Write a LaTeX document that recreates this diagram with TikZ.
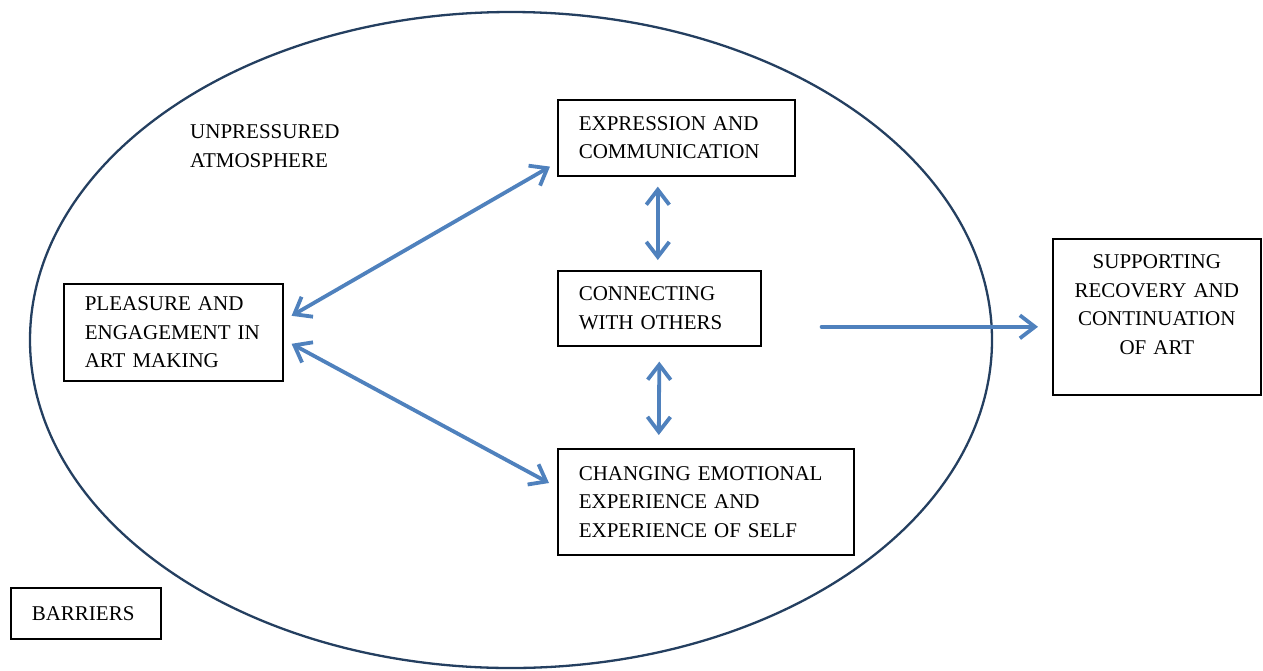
\documentclass[tikz,border=0pt]{standalone}
\usepackage{fontspec}
\setmainfont{Liberation Serif}
\usetikzlibrary{arrows.meta,calc}
\definecolor{arrowblue}{HTML}{4F81BD}
\definecolor{ringblue}{HTML}{243F60}
\begin{document}
\begin{tikzpicture}[x=1pt,y=-1pt,
  box/.style={draw=black, line width=1.6pt, inner xsep=21pt, inner ysep=0pt,
    align=left, font=\fontsize{21}{28.5}\selectfont, anchor=north west},
  plain/.style={inner sep=0pt, align=left, font=\fontsize{21}{28.5}\selectfont},
  tip/.tip={Straight Barb[length=15pt,width=23pt]},
  link/.style={draw=arrowblue, line width=3.8pt, line cap=round, tip-tip},
  onelink/.style={draw=arrowblue, line width=3.8pt, line cap=round, -tip},
]
\useasboundingbox (0,0) rectangle (1263,670);
\draw[ringblue, line width=2.3pt] (511,340) ellipse [x radius=481, y radius=328];

\node[box, text width=195pt, minimum height=76pt] (expr) at (557,99) {EXPRESSION AND\\COMMUNICATION};
\node[box, text width=161pt, minimum height=75pt] (conn) at (557,270) {CONNECTING\\WITH OTHERS};
\node[box, text width=177pt, minimum height=97pt] (pleas) at (63,283) {PLEASURE AND\\ENGAGEMENT IN\\ART MAKING};
\node[box, text width=254pt, minimum height=106pt] (chang) at (557,448) {CHANGING EMOTIONAL\\EXPERIENCE AND\\EXPERIENCE OF SELF};
\node[box, text width=166pt, minimum height=156pt, align=center] (supp) at (1052,238) {SUPPORTING\\RECOVERY AND\\CONTINUATION\\OF ART\\[-4pt]\mbox{}};
\node[box, text width=108pt, minimum height=51pt] (barr) at (10,587) {BARRIERS};
\node[plain, anchor=west] (unpr) at (190,146) {UNPRESSURED\\ATMOSPHERE};

\draw[link] ($(pleas.east)+(8,-16.5)$) -- ($(expr.south west)+(-7,-10)$);
\draw[link] ($(pleas.east)+(8,11.5)$) -- ($(chang.north west)+(-8,35)$);
\draw[link] ($(expr.south)+(-18.5,10)$) -- ($(conn.north)+(-1.5,-10)$);
\draw[link] ($(conn.south)+(0,15)$) -- ($(chang.north)+(-47,-13)$);
\draw[onelink] ($(conn.east)+(60,18.5)$) -- ($(supp.west)+(-14,10)$);
\end{tikzpicture}
\end{document}
